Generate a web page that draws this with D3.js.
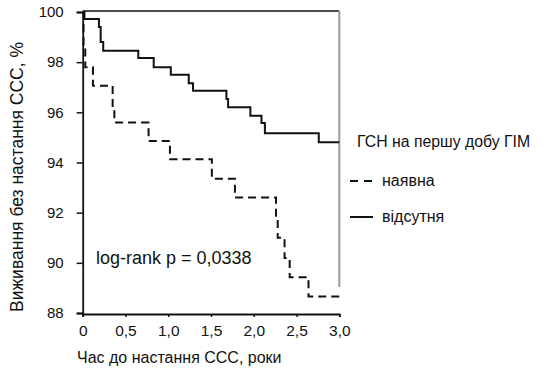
<!DOCTYPE html>
<html>
<head>
<meta charset="utf-8">
<script src="https://cdn.jsdelivr.net/npm/d3@7"></script>
<style>
  body { margin: 0; background: #fff; }
  svg text { font-family: "Liberation Sans", Arial, sans-serif; fill: #111; }
</style>
</head>
<body>
<script>
// survival curves, time in years, value in %
const absentT = [0, 0.02, 0.19, 0.21, 0.24, 0.65, 0.83, 1.03, 1.24, 1.29, 1.68, 1.70, 1.96, 2.09, 2.13, 2.76, 3.0]
const absentV = [100, 99.72, 99.4, 98.8, 98.46, 98.17, 97.8, 97.5, 97.16, 96.86, 96.53, 96.2, 95.86, 95.57, 95.17, 94.81, 94.81]

const presentT = [0, 0.01, 0.03, 0.12, 0.35, 0.37, 0.77, 1.02, 1.51, 1.78, 2.26, 2.28, 2.36, 2.42, 2.64, 3.0]
const presentV = [100, 98.57, 97.8, 97.06, 96.25, 95.59, 94.86, 94.13, 93.35, 92.6, 91.78, 91.0, 90.19, 89.43, 88.66, 88.66]

const xTicks = [0, 0.5, 1, 1.5, 2, 2.5, 3]
const yTicks = [88, 90, 92, 94, 96, 98, 100]

const legendTitle = "ГСН на першу добу ГІМ"
const legendLabels = ["наявна", "відсутня"]
const pText = "log-rank p = 0,0338"

const W = 554, H = 375

const svg = d3.select("body").append("svg")
    .attr("width", W)
    .attr("height", H)

const x = d3.scaleLinear().domain([0, 3]).range([82.7, 339.3])
const y = d3.scaleLinear().domain([88, 100]).range([313, 12])

const fmt = d => d === 0 ? "0" : d3.format(".1f")(d).replace(".", ",")

//**** AXES */
const xAxis_g = svg.append("g")
    .attr("transform", "translate(0," + 314 + ")")
    .call(d3.axisBottom(x).tickValues(xTicks).tickFormat(fmt).tickSizeOuter(0).tickSize(3).tickPadding(8))
xAxis_g.select(".domain").attr("stroke", "#111").attr("stroke-width", 1.8)
xAxis_g.selectAll(".tick line").attr("stroke", "#111").attr("stroke-width", 1.5)
xAxis_g.selectAll("text").attr("font-size", 15.5)

const yAxis_g = svg.append("g")
    .attr("transform", "translate(" + 82.7 + ",0)")
    .call(d3.axisLeft(y).tickValues(yTicks).tickSizeOuter(0).tickSize(6).tickPadding(13))
yAxis_g.select(".domain").attr("stroke", "#111").attr("stroke-width", 1.8)
yAxis_g.selectAll(".tick line").attr("stroke", "#111").attr("stroke-width", 1.5)
yAxis_g.selectAll("text").attr("font-size", 15)

// top border + grey right edge
svg.append("line")
    .attr("x1", x(0)).attr("x2", x(3))
    .attr("y1", y(100) - 1).attr("y2", y(100) - 1)
    .attr("stroke", "#111").attr("stroke-width", 1.6)
svg.append("line")
    .attr("x1", x(3)).attr("x2", x(3))
    .attr("y1", y(100) - 1).attr("y2", 287)
    .attr("stroke", "#999").attr("stroke-width", 2)

//**** CURVES */
const line = d3.line()
    .x(d => x(d[0]))
    .y(d => y(d[1]))
    .curve(d3.curveStepAfter)

svg.append("path")
    .datum(d3.zip(absentT, absentV))
    .attr("d", line)
    .attr("fill", "none")
    .attr("stroke", "#111")
    .attr("stroke-width", 2)

svg.append("path")
    .datum(d3.zip(presentT, presentV))
    .attr("d", line)
    .attr("fill", "none")
    .attr("stroke", "#111")
    .attr("stroke-width", 2)
    .attr("stroke-dasharray", "8,5")

//**** LABELS */
svg.append("text")
    .attr("transform", "translate(23," + 177 + ") rotate(-90)")
    .attr("text-anchor", "middle")
    .attr("font-size", 17.5)
    .text("Виживання без настання ССС, %")

svg.append("text")
    .attr("x", 77).attr("y", 363)
    .attr("font-size", 16)
    .text("Час до настання ССС, роки")

svg.append("text")
    .attr("x", 96).attr("y", 264)
    .attr("font-size", 18)
    .text(pText)

//**** LEGEND */
const legend_g = svg.append("g").attr("class", "legend_g")
legend_g.append("text")
    .attr("x", 357).attr("y", 147)
    .attr("font-size", 15.8)
    .text(legendTitle)

legendLabels.forEach((lbl, i) => {
    const ly = 181 + i * 36
    legend_g.append("line")
        .attr("x1", 350).attr("x2", 373)
        .attr("y1", ly).attr("y2", ly)
        .attr("stroke", "#111").attr("stroke-width", 2)
        .attr("stroke-dasharray", i === 0 ? "8,6" : null)
    legend_g.append("text")
        .attr("x", 382).attr("y", ly + 5)
        .attr("font-size", 16)
        .text(lbl)
})
</script>
</body>
</html>
